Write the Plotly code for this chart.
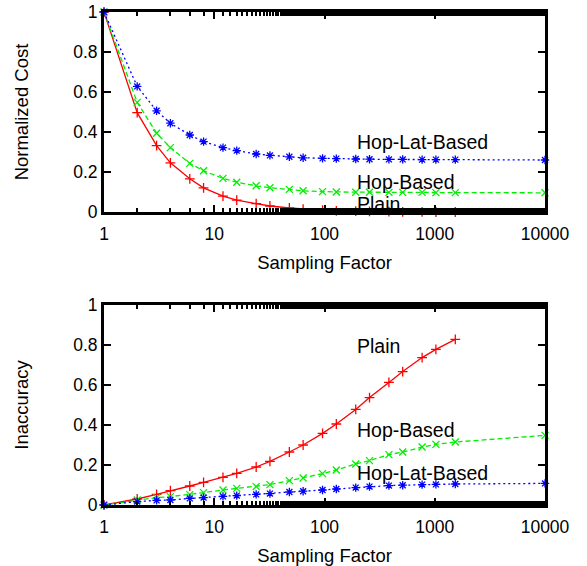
import plotly.graph_objects as go

# ---- data ----
x_vals = [1, 2, 3, 4, 6, 8, 12, 16, 24, 32, 48, 64, 96, 128, 192, 256, 384, 512, 768, 1024, 1536]
x_ext = x_vals + [10000]

cost_plain = [1.0, 0.497, 0.332, 0.246, 0.166, 0.121, 0.079, 0.059, 0.042, 0.030, 0.020, 0.014,
              0.009, 0.006, 0.004, 0.003, 0.002, 0.001, 0.001, 0.0, 0.0]
cost_hop = [1.0, 0.548, 0.394, 0.322, 0.243, 0.206, 0.168, 0.149, 0.131, 0.121, 0.113, 0.106,
            0.102, 0.100, 0.099, 0.099, 0.098, 0.098, 0.098, 0.097, 0.097, 0.096]
cost_hoplat = [1.0, 0.628, 0.506, 0.444, 0.385, 0.352, 0.322, 0.307, 0.290, 0.283, 0.276, 0.271,
               0.268, 0.267, 0.265, 0.264, 0.263, 0.263, 0.262, 0.262, 0.262, 0.260]

inacc_plain = [0.0, 0.030, 0.053, 0.072, 0.095, 0.113, 0.138, 0.158, 0.190, 0.218, 0.265, 0.300,
               0.358, 0.405, 0.478, 0.537, 0.613, 0.667, 0.737, 0.778, 0.828]
inacc_hop = [0.0, 0.025, 0.037, 0.042, 0.052, 0.062, 0.075, 0.083, 0.092, 0.102, 0.122, 0.135,
             0.157, 0.175, 0.205, 0.222, 0.252, 0.265, 0.290, 0.303, 0.315, 0.348]
inacc_hoplat = [0.0, 0.017, 0.023, 0.025, 0.033, 0.037, 0.043, 0.047, 0.053, 0.057, 0.065, 0.069,
                0.075, 0.080, 0.087, 0.092, 0.097, 0.099, 0.102, 0.103, 0.105, 0.108]

x_tick_vals = [1, 10, 100, 1000, 10000]
x_tick_text = ["1", "10", "100", "1000", "10000"]
y_tick_vals = [0, 0.2, 0.4, 0.6, 0.8, 1]
y_tick_text = ["0", "0.2", "0.4", "0.6", "0.8", "1"]

FONT = "Liberation Sans, Arial, Helvetica, sans-serif"
TICK_FONT = dict(family=FONT, size=17.5, color="black")
TITLE_FONT = dict(family=FONT, size=18.5, color="black")
LABEL_FONT = dict(family=FONT, size=19.5, color="black")

fig = go.Figure()

def add_series(x, y, color, dash, symbol, xa, ya):
    fig.add_trace(go.Scatter(
        x=x, y=y, mode="lines+markers", xaxis=xa, yaxis=ya,
        line=dict(color=color, width=1.3, dash=dash),
        marker=dict(symbol=symbol, size=7, color=color, line=dict(color=color, width=1.3)),
        cliponaxis=False, showlegend=False, hoverinfo="skip"))

# top
add_series(x_vals, cost_plain, "#ff0000", "solid", "cross-thin-open", "x", "y")
add_series(x_ext, cost_hop, "#00ee00", "5px,3px", "x-thin-open", "x", "y")
add_series(x_ext, cost_hoplat, "#0000ff", "2px,3px", "asterisk-open", "x", "y")
# bottom
add_series(x_vals, inacc_plain, "#ff0000", "solid", "cross-thin-open", "x2", "y2")
add_series(x_ext, inacc_hop, "#00ee00", "5px,3px", "x-thin-open", "x2", "y2")
add_series(x_ext, inacc_hoplat, "#0000ff", "2px,3px", "asterisk-open", "x2", "y2")

xaxis_common = dict(
    type="log", range=[0, 4], tickvals=x_tick_vals, ticktext=x_tick_text,
    ticks="inside", ticklen=7, tickwidth=2, tickcolor="black",
    showline=True, linewidth=3, linecolor="black", mirror="ticks",
    showgrid=False, zeroline=False, automargin=False,
    minor=dict(ticks="inside", ticklen=4, tickwidth=2, tickcolor="black", showgrid=False),
    tickfont=TICK_FONT, ticklabelstandoff=4, ticklabeloverflow="allow",
    title=dict(text="Sampling Factor", font=TITLE_FONT, standoff=14),
)
yaxis_common = dict(
    range=[0, 1], tickvals=y_tick_vals, ticktext=y_tick_text,
    ticks="inside", ticklen=7, tickwidth=2, tickcolor="black",
    showline=True, linewidth=3, linecolor="black", mirror="ticks",
    showgrid=False, zeroline=False, automargin=False,
    tickfont=TICK_FONT, ticklabeloverflow="allow",
)

fig.update_layout(
    width=587, height=566,
    margin=dict(l=104, r=42, t=12, b=61),
    paper_bgcolor="white", plot_bgcolor="white",
    hovermode=False, dragmode=False,
    font=dict(family=FONT, size=18, color="black"),
    xaxis=dict(domain=[0, 1], anchor="y", **xaxis_common),
    yaxis=dict(domain=[0.5943, 1], anchor="x",
               title=dict(text="Normalized Cost", font=TITLE_FONT, standoff=40),
               **yaxis_common),
    xaxis2=dict(domain=[0, 1], anchor="y2", **xaxis_common),
    yaxis2=dict(domain=[0, 0.4057], anchor="x2",
                title=dict(text="Inaccuracy", font=TITLE_FONT, standoff=40),
                **yaxis_common),
)

def label(text, y, xref, yref):
    fig.add_annotation(x=2.304, y=y, xref=xref, yref=yref, text=text, showarrow=False,
                       xanchor="left", yanchor="middle", xshift=-3,
                       font=LABEL_FONT)

label("Hop-Lat-Based", 0.35, "x", "y")
label("Hop-Based", 0.15, "x", "y")
label("Plain", 0.04, "x", "y")
label("Plain", 0.795, "x2", "y2")
label("Hop-Based", 0.375, "x2", "y2")
label("Hop-Lat-Based", 0.16, "x2", "y2")

fig.write_html("out.html",
               config={"displayModeBar": False, "staticPlot": True},
               post_script="document.body.style.margin='0px';document.body.style.overflow='hidden';")
